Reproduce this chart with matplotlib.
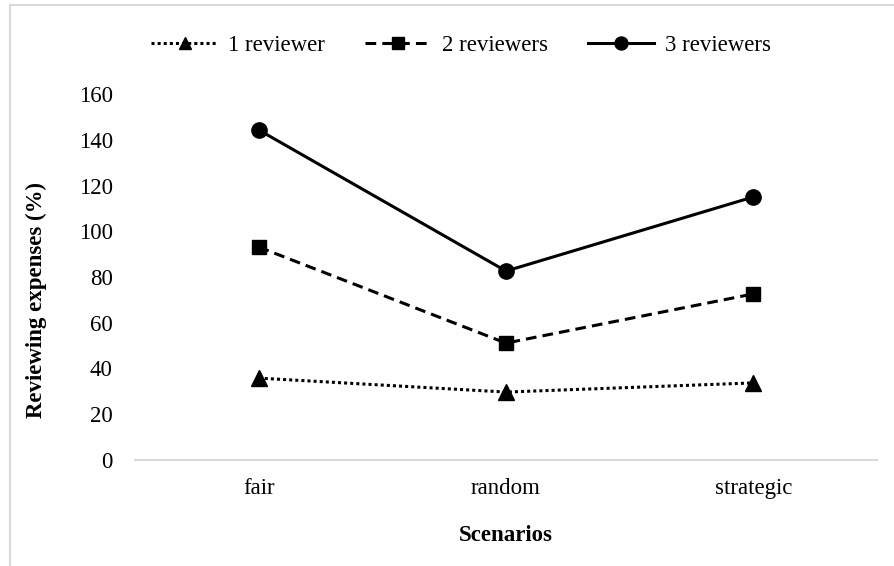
import matplotlib
matplotlib.use("Agg")
import matplotlib.pyplot as plt
from matplotlib.patches import Rectangle

scenarios = ["fair", "random", "strategic"]
one_reviewer = [35.8, 29.7, 33.7]
two_reviewers = [93.1, 51.1, 72.6]
three_reviewers = [144.3, 82.6, 115.0]
yticks = [0, 20, 40, 60, 80, 100, 120, 140, 160]

plt.rcParams['font.family'] = ['Liberation Serif', 'DejaVu Serif']
fs = 16.5

fig = plt.figure(figsize=(8.95, 5.66), dpi=100)
ax = fig.add_axes([135 / 895, 1 - 460 / 566, 742 / 895, 366 / 566])

# outer chart border like in Excel
fig.patches.append(Rectangle((10 / 895, -0.05), 1.0, 1.05 - 5 / 566, transform=fig.transFigure,
                             fill=False, edgecolor='#d9d9d9', linewidth=1.5))

x = range(len(scenarios))
ax.plot(x, one_reviewer, linestyle=(0, (1, 1)), color='black', linewidth=2.2,
        marker='^', markersize=11, label='1 reviewer')
ax.plot(x, two_reviewers, linestyle=(0, (3.5, 2)), color='black', linewidth=2.2,
        marker='s', markersize=10.5, label='2 reviewers')
ax.plot(x, three_reviewers, linestyle='-', color='black', linewidth=2.2,
        marker='o', markersize=11, label='3 reviewers')

ax.set_xlim(-0.5, 2.5)
ax.set_ylim(0, 160)
ax.set_xticks(list(x))
ax.set_xticklabels(scenarios)
ax.set_yticks(yticks)
ax.tick_params(axis='both', length=0, labelsize=fs)
ax.tick_params(axis='y', pad=16)
ax.tick_params(axis='x', pad=13)

for s in ['top', 'right', 'left']:
    ax.spines[s].set_visible(False)
ax.spines['bottom'].set_color('#d9d9d9')
ax.spines['bottom'].set_linewidth(1.5)

ax.set_xlabel('Scenarios', fontsize=fs, fontweight='bold', labelpad=19)
ax.set_ylabel('Reviewing expenses (%)', fontsize=fs, fontweight='bold')
ax.yaxis.set_label_coords(-0.119, 0.437)

leg = ax.legend(loc='center', bbox_to_anchor=(461 / 895, 1 - 45 / 566), bbox_transform=fig.transFigure,
                ncol=3, frameon=False, fontsize=fs, handlelength=2.9, columnspacing=1.75,
                handletextpad=0.45, markerscale=0.85)

fig.savefig("out.png", dpi=100)
